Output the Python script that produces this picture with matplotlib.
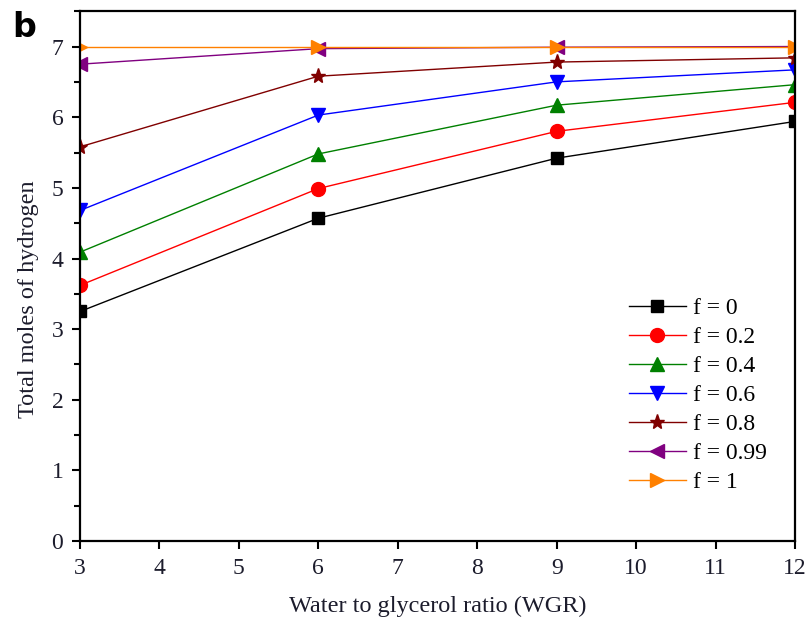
import numpy as np
import matplotlib
matplotlib.use("Agg")
import matplotlib.pyplot as plt
from matplotlib.ticker import MultipleLocator

plt.rcParams['font.family'] = ['Liberation Serif', 'DejaVu Serif']

# water to glycerol ratio
wgr = [3, 6, 9, 12]

# total moles of hydrogen for each fraction f
h2_f0 = [3.25, 4.57, 5.42, 5.94]
h2_f02 = [3.62, 4.99, 5.80, 6.21]
h2_f04 = [4.09, 5.48, 6.17, 6.46]
h2_f06 = [4.68, 6.03, 6.50, 6.67]
h2_f08 = [5.58, 6.58, 6.78, 6.84]
h2_f099 = [6.75, 6.97, 6.99, 7.00]
h2_f1 = [7.00, 7.00, 7.00, 7.00]

labels = ['f = 0', 'f = 0.2', 'f = 0.4', 'f = 0.6', 'f = 0.8', 'f = 0.99', 'f = 1']
series = [h2_f0, h2_f02, h2_f04, h2_f06, h2_f08, h2_f099, h2_f1]
colors = ['black', 'red', 'green', 'blue', '#800000', '#800080', '#ff8000']
markers = ['s', 'o', '^', 'v', '*', '<', '>']
sizes = [8, 10, 10, 10, 11, 10, 10]

fig = plt.figure(figsize=(8.08, 6.22), dpi=100)
ax = fig.add_axes([0.099, 0.130, 0.885, 0.852])

for y, c, m, s, lab in zip(series, colors, markers, sizes, labels):
    ax.plot(wgr, y, color=c, marker=m, markersize=s, linewidth=1,
            markeredgecolor=c, label=lab)

ax.set_xlim(3, 12)
ax.set_ylim(0, 7.5)
ax.xaxis.set_major_locator(MultipleLocator(1))
ax.yaxis.set_minor_locator(MultipleLocator(0.5))
ax.set_yticks(range(0, 8))
ax.tick_params(direction='out', which='major', length=6, width=1.5, pad=6,
               labelsize=17, colors='black', labelcolor='#1c1c2c')
ax.tick_params(direction='out', which='minor', length=4, width=1.5)
ax.tick_params(axis='x', which='minor', bottom=False)
for sp in ax.spines.values():
    sp.set_linewidth(1.6)

ax.set_xlabel('Water to glycerol ratio (WGR)', fontsize=17.5, color='#1c1c2c', labelpad=12)
ax.set_ylabel('Total moles of hydrogen', fontsize=17.5, color='#1c1c2c')
ax.yaxis.set_label_coords(-0.058, 0.457)

leg = ax.legend(loc='lower right', bbox_to_anchor=(0.99, 0.05), frameon=False,
                fontsize=17, handlelength=2.4, labelspacing=0.32, handletextpad=0.3)

fig.text(0.015, 0.955, 'b', fontsize=24, fontweight='bold',
         family='DejaVu Sans', va='center')

fig.savefig('out.png', dpi=100)
